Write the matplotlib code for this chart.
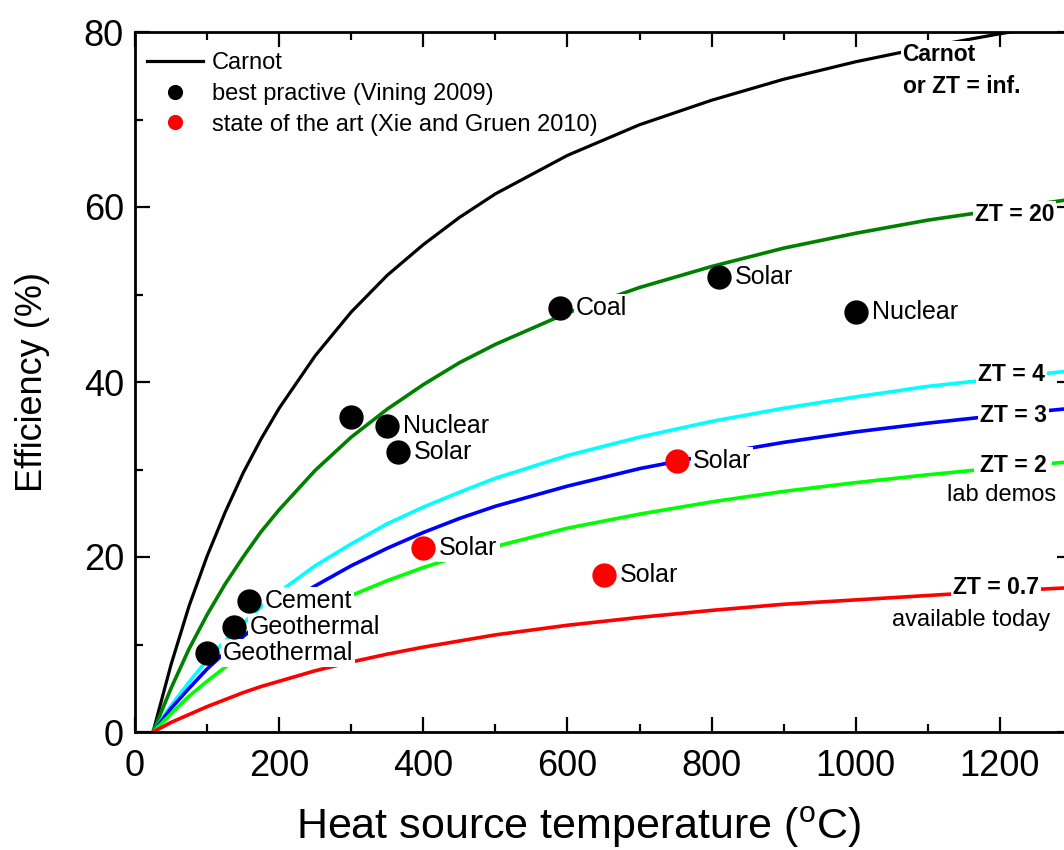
## Thermoelectric efficiency vs heat source temperature
import numpy as np
import matplotlib
matplotlib.use('Agg')
import matplotlib.pyplot as plt

plt.rcParams['font.family'] = ['Liberation Sans', 'DejaVu Sans']
plt.rcParams['mathtext.fontset'] = 'custom'
plt.rcParams['mathtext.rm'] = 'Liberation Sans'

## curves (deg C, %)
temp = [25, 50, 75, 100, 125, 150, 175, 200, 250, 300, 350, 400, 450, 500, 600, 700, 800, 900, 1000, 1100, 1200, 1300]
carnot = [0, 7.7, 14.4, 20.1, 25.1, 29.6, 33.5, 37.0, 43.0, 48.0, 52.2, 55.7, 58.8, 61.5, 65.9, 69.4, 72.2, 74.6, 76.6, 78.3, 79.8, 81.1]
zt20 = [0, 5.0, 9.5, 13.4, 16.9, 20.0, 22.9, 25.4, 29.9, 33.7, 36.9, 39.7, 42.2, 44.3, 47.9, 50.8, 53.2, 55.3, 57.0, 58.5, 59.7, 60.9]
zt4 = [0, 3.0, 5.7, 8.2, 10.4, 12.4, 14.3, 16.0, 19.0, 21.5, 23.8, 25.7, 27.4, 29.0, 31.6, 33.7, 35.5, 37.0, 38.3, 39.5, 40.4, 41.3]
zt3 = [0, 2.7, 5.0, 7.2, 9.1, 10.9, 12.6, 14.1, 16.7, 19.0, 21.0, 22.8, 24.4, 25.8, 28.1, 30.1, 31.7, 33.1, 34.3, 35.3, 36.2, 37.0]
zt2 = [0, 2.1, 4.1, 5.8, 7.4, 8.9, 10.2, 11.5, 13.7, 15.6, 17.3, 18.8, 20.1, 21.2, 23.3, 24.9, 26.3, 27.5, 28.5, 29.4, 30.2, 30.9]
zt07 = [0, 1.1, 2.0, 2.9, 3.7, 4.5, 5.2, 5.8, 7.0, 8.0, 8.9, 9.7, 10.4, 11.1, 12.2, 13.1, 13.9, 14.6, 15.1, 15.6, 16.1, 16.5]

## best practice points (Vining 2009)
best_t = [100, 137, 158, 300, 350, 365, 590, 810, 1000]
best_eff = [9, 12, 15, 36, 35, 32, 48.5, 52, 48]
best_lab = ['Geothermal', 'Geothermal', 'Cement', '', 'Nuclear', 'Solar', 'Coal', 'Solar', 'Nuclear']

## state of the art points (Xie and Gruen 2010)
art_t = [400, 650, 752]
art_eff = [21, 18, 31]
art_lab = ['Solar', 'Solar', 'Solar']

fig = plt.figure(figsize=(10.64, 8.5), dpi=100)
ax = fig.add_axes([135/1064, 118/850, 937/1064, 700/850])

wbox = dict(facecolor='white', edgecolor='none', pad=1.5)

l0, = plt.plot(temp, carnot, '-', color='k', lw=2.3, label='Carnot')
plt.plot(temp, zt20, '-', color='#008000', lw=2.6)
plt.plot(temp, zt4, '-', color='#00ffff', lw=2.6)
plt.plot(temp, zt3, '-', color='#0000ff', lw=2.6)
plt.plot(temp, zt2, '-', color='#00ff00', lw=2.6)
plt.plot(temp, zt07, '-', color='#ff0000', lw=2.6)

l1, = plt.plot(best_t, best_eff, 'o', color='k', ms=16.5, ls='none', zorder=5, label='best practive (Vining 2009)')
l2, = plt.plot(art_t, art_eff, 'o', color='#ff0000', ms=16.5, ls='none', zorder=5, label='state of the art (Xie and Gruen 2010)')

for ii in range(len(best_t)):
    if best_lab[ii]:
        plt.annotate(best_lab[ii], (best_t[ii], best_eff[ii]), xytext=(11.5, 0), textcoords='offset points',
                     va='center', ha='left', fontsize=18, bbox=wbox, zorder=4)
for ii in range(len(art_t)):
    plt.annotate(art_lab[ii], (art_t[ii], art_eff[ii]), xytext=(11.5, 0), textcoords='offset points',
                 va='center', ha='left', fontsize=18, bbox=wbox, zorder=4)

## curve labels on the right
plt.text(1065, 77.4, 'Carnot', fontsize=16.5, weight='bold', va='center', bbox=wbox)
plt.text(1065, 73.8, 'or ZT = inf.', fontsize=16.5, weight='bold', va='center', bbox=wbox)
plt.text(1165, 59.1, 'ZT = 20', fontsize=16.5, weight='bold', va='center', bbox=wbox)
plt.text(1169, 40.9, 'ZT = 4', fontsize=16.5, weight='bold', va='center', bbox=wbox)
plt.text(1172, 36.2, 'ZT = 3', fontsize=16.5, weight='bold', va='center', bbox=wbox)
plt.text(1172, 30.5, 'ZT = 2', fontsize=16.5, weight='bold', va='center', bbox=dict(facecolor='white', edgecolor='none', pad=4))
plt.text(1126, 27.1, 'lab demos', fontsize=17, va='center', bbox=dict(facecolor='white', edgecolor='none', pad=4))
plt.text(1135, 16.5, 'ZT = 0.7', fontsize=16.5, weight='bold', va='center', bbox=wbox)
plt.text(1050, 12.8, 'available today', fontsize=17, va='center', bbox=dict(facecolor='white', edgecolor='none', pad=5))

plt.xlim(0, 1300)
plt.ylim(0, 80)
ax.set_xticks(np.arange(0, 1301, 200))
ax.set_xticks(np.arange(0, 1301, 100), minor=True)
ax.set_yticks(np.arange(0, 81, 20))
ax.set_yticks(np.arange(0, 81, 10), minor=True)
ax.tick_params(which='both', direction='in', top=True, right=True, width=1.6, labelsize=26)
ax.tick_params(axis='x', pad=12)
ax.tick_params(axis='y', pad=8)
ax.tick_params(which='major', length=11)
ax.tick_params(which='minor', length=6)
for sp in ax.spines.values():
    sp.set_linewidth(2)

plt.xlabel('Heat source temperature ($^{\\rm o}$C)', fontsize=31, va='center')
ax.xaxis.set_label_coords(0.473, -0.137)
plt.ylabel('Efficiency (%)', fontsize=26, va='center')
ax.yaxis.set_label_coords(-0.109, 0.5)

plt.legend(handles=[l0, l1, l2], loc='upper left', bbox_to_anchor=(0, 0.988), frameon=False, fontsize=17,
           markerscale=0.6, handlelength=2.4, handletextpad=0.35, labelspacing=0.37, borderaxespad=0.3, borderpad=0.2)

plt.savefig('out.png', dpi=100)
